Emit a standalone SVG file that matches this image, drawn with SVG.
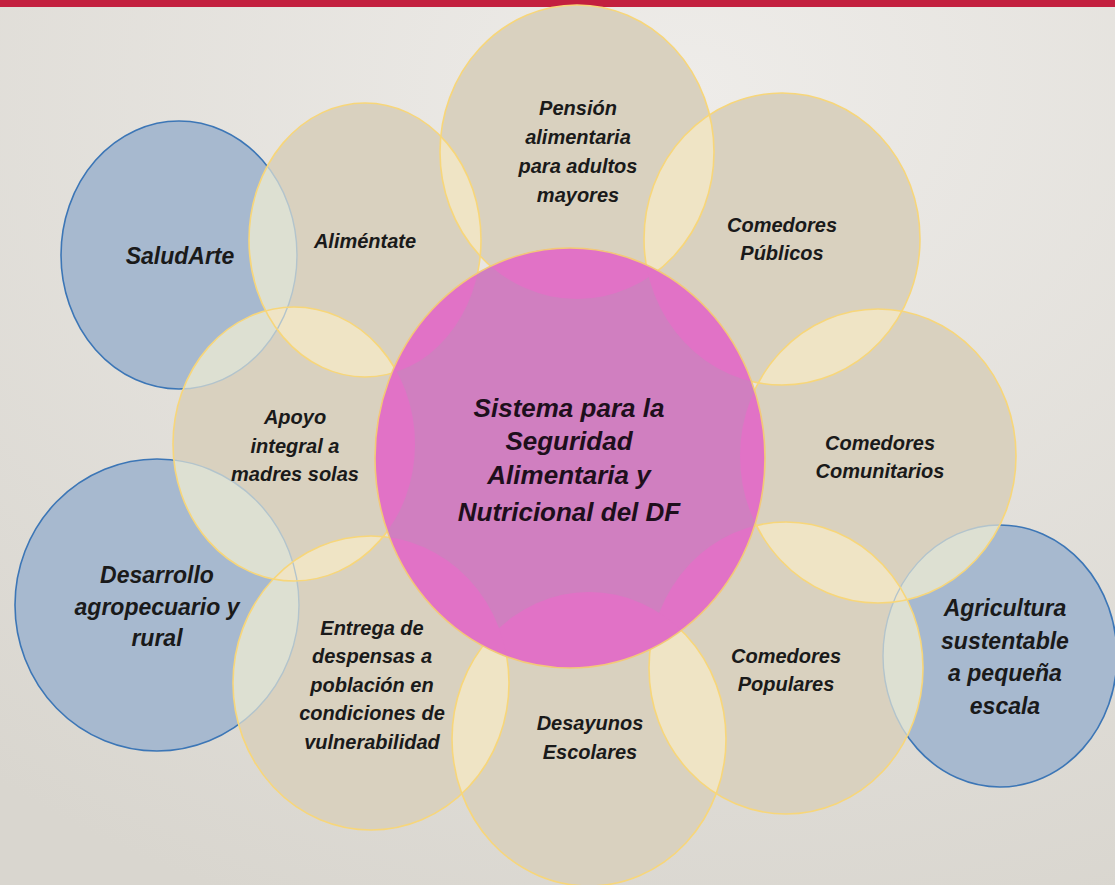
<svg xmlns="http://www.w3.org/2000/svg" xmlns:xlink="http://www.w3.org/1999/xlink" width="1115" height="885" viewBox="0 0 1115 885">
<style>
.petal{fill:#d9d1bf}
.blue{fill:#a7b9cf;stroke:#3c76b6;stroke-width:1.6}
.bfaint{fill:none;stroke:#b3c4cc;stroke-width:1.4}
.pline{fill:none;stroke:#f7d67a;stroke-width:1.6}
.lensY{fill:#efe4c5}
.lensB{fill:#dde0d2}
.center{fill:#d07fc0}
.lensP{fill:#e172c6}
.cline{fill:none;stroke:#f3c878;stroke-width:1.6}
text{font-family:"Liberation Sans",Arial,sans-serif;font-weight:bold;font-style:italic;fill:#1a1a1a;text-anchor:middle}
.t20{font-size:20px}
.t23{font-size:23px}
.t26{font-size:26px;fill:#1e0f1c}
</style>
<defs>
<radialGradient id="bg" cx="0.62" cy="0.1" r="1.0">
<stop offset="0" stop-color="#eeece9"/>
<stop offset="1" stop-color="#d9d6cf"/>
</radialGradient>
<ellipse id="e-sal" cx="179" cy="255" rx="118" ry="134"/>
<ellipse id="e-ali" cx="365" cy="240" rx="116" ry="137"/>
<ellipse id="e-pen" cx="577" cy="152" rx="137" ry="147"/>
<ellipse id="e-pub" cx="782" cy="239" rx="138" ry="146"/>
<ellipse id="e-com" cx="878" cy="456" rx="138" ry="147"/>
<ellipse id="e-agr" cx="1000" cy="656" rx="117" ry="131"/>
<ellipse id="e-pop" cx="786" cy="668" rx="137" ry="146"/>
<ellipse id="e-des" cx="589" cy="739" rx="137" ry="147"/>
<ellipse id="e-ent" cx="371" cy="683" rx="138" ry="147"/>
<ellipse id="e-dar" cx="157" cy="605" rx="142" ry="146"/>
<ellipse id="e-apo" cx="294" cy="444" rx="121" ry="137"/>
<ellipse id="e-cen" cx="570" cy="458" rx="195" ry="210"/>
<clipPath id="k-ali"><use href="#e-ali"/></clipPath>
<clipPath id="k-pen"><use href="#e-pen"/></clipPath>
<clipPath id="k-pub"><use href="#e-pub"/></clipPath>
<clipPath id="k-com"><use href="#e-com"/></clipPath>
<clipPath id="k-pop"><use href="#e-pop"/></clipPath>
<clipPath id="k-des"><use href="#e-des"/></clipPath>
<clipPath id="k-ent"><use href="#e-ent"/></clipPath>
<clipPath id="k-apo"><use href="#e-apo"/></clipPath>
<clipPath id="k-cen"><use href="#e-cen"/></clipPath>
<clipPath id="k-side"><use href="#e-ali"/><use href="#e-apo"/><use href="#e-ent"/><use href="#e-com"/><use href="#e-pop"/></clipPath>
</defs>

<rect x="0" y="0" width="1115" height="885" fill="url(#bg)"/>
<rect x="0" y="0" width="1115" height="7" fill="#c3203f"/>

<g id="connectors"></g>

<g id="blue-nodes">
<use href="#e-sal" class="blue"/>
<use href="#e-agr" class="blue"/>
<use href="#e-dar" class="blue"/>
</g>

<g id="petal-fills">
<use href="#e-ali" class="petal"/>
<use href="#e-pen" class="petal"/>
<use href="#e-pub" class="petal"/>
<use href="#e-com" class="petal"/>
<use href="#e-pop" class="petal"/>
<use href="#e-des" class="petal"/>
<use href="#e-ent" class="petal"/>
<use href="#e-apo" class="petal"/>
</g>

<g id="overlaps">
<use href="#e-sal" class="lensB" clip-path="url(#k-ali)"/>
<use href="#e-sal" class="lensB" clip-path="url(#k-apo)"/>
<use href="#e-dar" class="lensB" clip-path="url(#k-apo)"/>
<use href="#e-dar" class="lensB" clip-path="url(#k-ent)"/>
<use href="#e-agr" class="lensB" clip-path="url(#k-com)"/>
<use href="#e-agr" class="lensB" clip-path="url(#k-pop)"/>
<use href="#e-pen" class="lensY" clip-path="url(#k-ali)"/>
<use href="#e-pub" class="lensY" clip-path="url(#k-pen)"/>
<use href="#e-com" class="lensY" clip-path="url(#k-pub)"/>
<use href="#e-pop" class="lensY" clip-path="url(#k-com)"/>
<use href="#e-des" class="lensY" clip-path="url(#k-pop)"/>
<use href="#e-ent" class="lensY" clip-path="url(#k-des)"/>
<use href="#e-apo" class="lensY" clip-path="url(#k-ent)"/>
<use href="#e-ali" class="lensY" clip-path="url(#k-apo)"/>
<g clip-path="url(#k-side)">
<use href="#e-sal" class="bfaint"/>
<use href="#e-dar" class="bfaint"/>
<use href="#e-agr" class="bfaint"/>
</g>
</g>

<g id="petal-lines">
<use href="#e-ali" class="pline"/>
<use href="#e-pen" class="pline"/>
<use href="#e-pub" class="pline"/>
<use href="#e-com" class="pline"/>
<use href="#e-pop" class="pline"/>
<use href="#e-des" class="pline"/>
<use href="#e-ent" class="pline"/>
<use href="#e-apo" class="pline"/>
</g>

<g id="center-node">
<use href="#e-cen" class="center"/>
<g clip-path="url(#k-cen)">
<use href="#e-ali" class="lensP"/>
<use href="#e-pen" class="lensP"/>
<use href="#e-pub" class="lensP"/>
<use href="#e-com" class="lensP"/>
<use href="#e-pop" class="lensP"/>
<use href="#e-des" class="lensP"/>
<use href="#e-ent" class="lensP"/>
<use href="#e-apo" class="lensP"/>
</g>
<use href="#e-cen" class="cline"/>
<text class="t26" x="569" y="417">Sistema para la</text>
<text class="t26" x="569" y="450">Seguridad</text>
<text class="t26" x="569" y="484">Alimentaria y</text>
<text class="t26" x="569" y="521">Nutricional del DF</text>
</g>

<g id="node-saludarte"><text class="t23" x="180" y="264">SaludArte</text></g>
<g id="node-alimentate"><text class="t20" x="365" y="248">Aliméntate</text></g>
<g id="node-pension">
<text class="t20" x="578" y="115">Pensión</text>
<text class="t20" x="578" y="144">alimentaria</text>
<text class="t20" x="578" y="173">para adultos</text>
<text class="t20" x="578" y="202">mayores</text>
</g>
<g id="node-publicos">
<text class="t20" x="782" y="232">Comedores</text>
<text class="t20" x="782" y="260">Públicos</text>
</g>
<g id="node-comunitarios">
<text class="t20" x="880" y="450">Comedores</text>
<text class="t20" x="880" y="478">Comunitarios</text>
</g>
<g id="node-agricultura">
<text class="t23" x="1005" y="616">Agricultura</text>
<text class="t23" x="1005" y="649">sustentable</text>
<text class="t23" x="1005" y="681">a pequeña</text>
<text class="t23" x="1005" y="714">escala</text>
</g>
<g id="node-populares">
<text class="t20" x="786" y="663">Comedores</text>
<text class="t20" x="786" y="691">Populares</text>
</g>
<g id="node-desayunos">
<text class="t20" x="590" y="730">Desayunos</text>
<text class="t20" x="590" y="759">Escolares</text>
</g>
<g id="node-entrega">
<text class="t20" x="372" y="635">Entrega de</text>
<text class="t20" x="372" y="663">despensas a</text>
<text class="t20" x="372" y="692">población en</text>
<text class="t20" x="372" y="720">condiciones de</text>
<text class="t20" x="372" y="749">vulnerabilidad</text>
</g>
<g id="node-desarrollo">
<text class="t23" x="157" y="583">Desarrollo</text>
<text class="t23" x="157" y="615">agropecuario y</text>
<text class="t23" x="157" y="646">rural</text>
</g>
<g id="node-apoyo">
<text class="t20" x="295" y="424">Apoyo</text>
<text class="t20" x="295" y="453">integral a</text>
<text class="t20" x="295" y="481">madres solas</text>
</g>
</svg>
